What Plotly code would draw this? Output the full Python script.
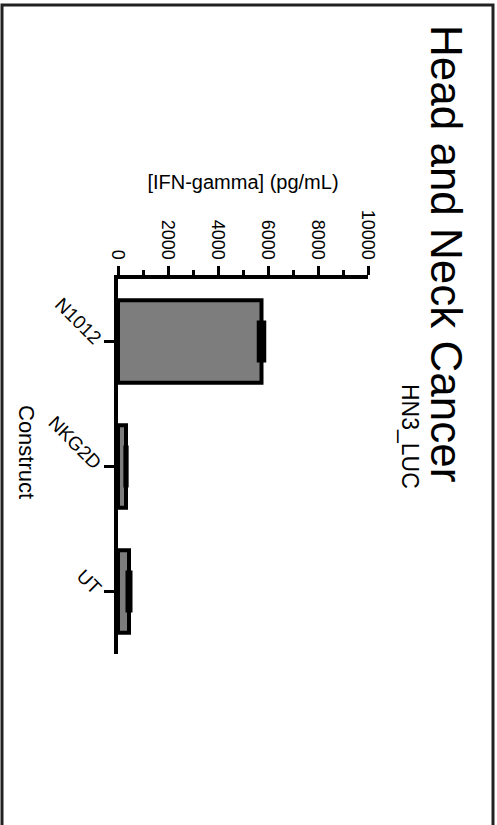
import plotly.graph_objects as go

# IFN-gamma release by construct, HN3_LUC target cells
constructs = ["N1012", "NKG2D", "UT"]
ifn_mean = [5740, 320, 440]
ifn_sd = [110, 25, 60]
value_ticks = [0, 2000, 4000, 6000, 8000, 10000]

W, H = 497, 825
L, T, PW, PH = 118, 279, 250, 375  # plot area in pixels


def px(x):
    return (x - L) / PW


def py(y):
    return 1 - (y - T) / PH


FONT = "Liberation Sans, Arial, sans-serif"

fig = go.Figure(
    go.Bar(
        orientation="h",
        x=ifn_mean,
        y=constructs,
        width=0.66,
        marker=dict(color="#7d7d7d", line=dict(color="black", width=4)),
        error_x=dict(type="data", array=ifn_sd, visible=True,
                     color="black", thickness=4, width=21),
        showlegend=False,
    )
)

fig.update_layout(
    width=W,
    height=H,
    margin=dict(l=L, r=W - L - PW, t=T, b=H - T - PH, pad=0),
    paper_bgcolor="white",
    plot_bgcolor="white",
    font=dict(family=FONT, color="black", size=18),
    xaxis=dict(
        side="top",
        range=[0, 10000],
        tickvals=value_ticks,
        ticktext=[str(v) for v in value_ticks],
        tickangle=90,
        ticks="outside",
        ticklen=9,
        tickwidth=3,
        tickcolor="black",
        minor=dict(dtick=1000, ticks="outside", ticklen=5, tickwidth=3,
                   tickcolor="black"),
        showline=True,
        linewidth=4,
        linecolor="black",
        showgrid=False,
        zeroline=False,
        tickfont=dict(size=18),
        title=dict(text="[IFN-gamma] (pg/mL)", font=dict(size=20), standoff=16),
    ),
    yaxis=dict(
        type="category",
        range=[2.5, -0.5],
        ticks="outside",
        ticklen=10,
        tickwidth=3,
        tickcolor="black",
        tickangle=45,
        showline=True,
        linewidth=4,
        linecolor="black",
        showgrid=False,
        zeroline=False,
        tickfont=dict(size=19),
    ),
    annotations=[
        dict(text="Head and Neck Cancer", x=px(447), y=py(253),
             xref="paper", yref="paper", showarrow=False, textangle=90,
             xanchor="center", yanchor="middle",
             font=dict(size=44, family=FONT)),
        dict(text="HN3_LUC", x=px(410), y=py(436),
             xref="paper", yref="paper", showarrow=False, textangle=90,
             xanchor="center", yanchor="middle",
             font=dict(size=23, family=FONT)),
        dict(text="Construct", x=px(27), y=py(452),
             xref="paper", yref="paper", showarrow=False, textangle=90,
             xanchor="center", yanchor="middle",
             font=dict(size=22, family=FONT)),
    ],
    shapes=[
        # outer frame (open at the bottom edge)
        dict(type="path", xref="paper", yref="paper",
             path=f"M {px(2)},{py(830)} L {px(2)},{py(5)} L {px(493)},{py(5)} L {px(493)},{py(830)}",
             line=dict(color="#222", width=3)),
    ],
)

fig.write_html("out.html")
